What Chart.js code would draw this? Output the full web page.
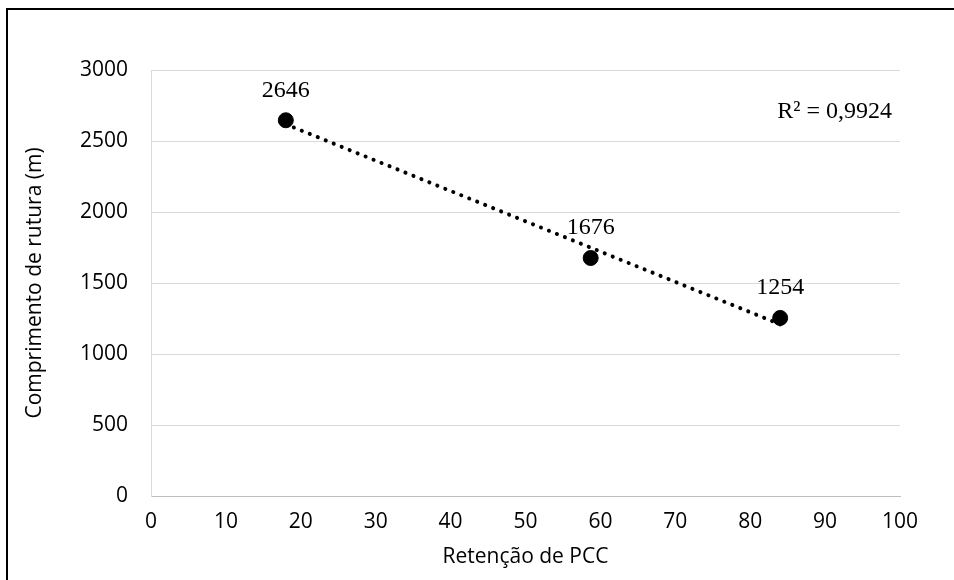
<!DOCTYPE html>
<html>
<head>
<meta charset="utf-8">
<script src="https://cdn.jsdelivr.net/npm/chart.js@4.4.1/dist/chart.umd.min.js"></script>
<style>
  html, body { margin: 0; padding: 0; background: #fff; overflow: hidden; }
  #wrap { width: 954px; height: 580px; position: relative; }
</style>
</head>
<body>
<div id="wrap"><canvas id="chart" width="954" height="580"></canvas></div>
<script>
// valores
const retencao = [18, 58.7, 84];
const comprimento = [2646, 1676, 1254];
const rotulos = ['2646', '1676', '1254'];
const r2Texto = 'R² = 0,9924';
const xTicks = [0, 10, 20, 30, 40, 50, 60, 70, 80, 90, 100];
const yTicks = [0, 500, 1000, 1500, 2000, 2500, 3000];

// linha de tendência linear (mínimos quadrados), como no Excel
function tendencia(xs, ys) {
  const n = xs.length;
  const mx = xs.reduce((a, b) => a + b, 0) / n;
  const my = ys.reduce((a, b) => a + b, 0) / n;
  let sxy = 0, sxx = 0;
  for (let i = 0; i < n; i++) {
    sxy += (xs[i] - mx) * (ys[i] - my);
    sxx += (xs[i] - mx) * (xs[i] - mx);
  }
  const b = sxy / sxx;
  const a = my - b * mx;
  const x0 = Math.min(...xs), x1 = Math.max(...xs);
  return [{x: x0, y: a + b * x0}, {x: x1, y: a + b * x1}];
}

const pontos = retencao.map((x, i) => ({x: x, y: comprimento[i]}));

const extras = {
  id: 'extras',
  beforeDraw(chart) {
    const ctx = chart.ctx;
    ctx.save();
    ctx.fillStyle = '#fff';
    ctx.fillRect(0, 0, chart.width, chart.height);
    ctx.restore();
  },
  afterDraw(chart) {
    const ctx = chart.ctx;
    const meta = chart.getDatasetMeta(1);
    ctx.save();
    ctx.fillStyle = '#000';
    ctx.font = '24px "Liberation Serif"';
    ctx.textAlign = 'center';
    ctx.textBaseline = 'middle';
    meta.data.forEach((p, i) => {
      ctx.fillText(rotulos[i], p.x, p.y - 30);
    });
    ctx.textAlign = 'right';
    ctx.fillText(r2Texto, 892, 112);
    // moldura
    ctx.strokeStyle = '#000';
    ctx.lineWidth = 2;
    ctx.beginPath();
    ctx.moveTo(7, 580);
    ctx.lineTo(7, 9);
    ctx.lineTo(954, 9);
    ctx.stroke();
    ctx.restore();
  }
};

const fonteEixo = { family: 'Open Sans', size: 21 };

new Chart(document.getElementById('chart').getContext('2d'), {
  type: 'scatter',
  data: {
    datasets: [{
      type: 'line',
      data: tendencia(retencao, comprimento),
      borderColor: '#000',
      borderWidth: 4,
      borderDash: [0.1, 8.5],
      borderCapStyle: 'round',
      pointRadius: 0,
      fill: false
    }, {
      data: pontos,
      backgroundColor: '#000',
      borderColor: '#000',
      pointRadius: 7.5,
      pointHoverRadius: 7.5
    }]
  },
  options: {
    responsive: false,
    animation: false,
    events: [],
    layout: { padding: { left: 0, right: 54, top: 70, bottom: 0 } },
    plugins: { legend: { display: false }, tooltip: { enabled: false } },
    scales: {
      x: {
        type: 'linear',
        min: 0, max: 100,
        afterBuildTicks: s => { s.ticks = xTicks.map(v => ({value: v})); },
        afterFit: s => { s.height = 84; },
        grid: { display: false, drawTicks: false },
        border: { display: true, color: '#bfbfbf', width: 1 },
        ticks: { padding: 13, color: '#000', font: fonteEixo, callback: v => String(v) },
        title: {
          display: true, text: 'Retenção de PCC', color: '#000',
          font: fonteEixo, padding: { top: 0, bottom: 10 }
        }
      },
      y: {
        type: 'linear',
        min: 0, max: 3000,
        afterBuildTicks: s => { s.ticks = yTicks.map(v => ({value: v})); },
        afterFit: s => { s.width = 151; },
        grid: { color: '#d9d9d9', lineWidth: 1, drawTicks: false },
        border: { display: true, color: '#d9d9d9', width: 1 },
        ticks: { padding: 23, color: '#000', font: fonteEixo, callback: v => String(v) },
        title: {
          display: true, text: 'Comprimento de rutura (m)', color: '#000',
          font: fonteEixo, padding: { top: 22, bottom: 0 }
        }
      }
    }
  },
  plugins: [extras]
});
</script>
</body>
</html>
